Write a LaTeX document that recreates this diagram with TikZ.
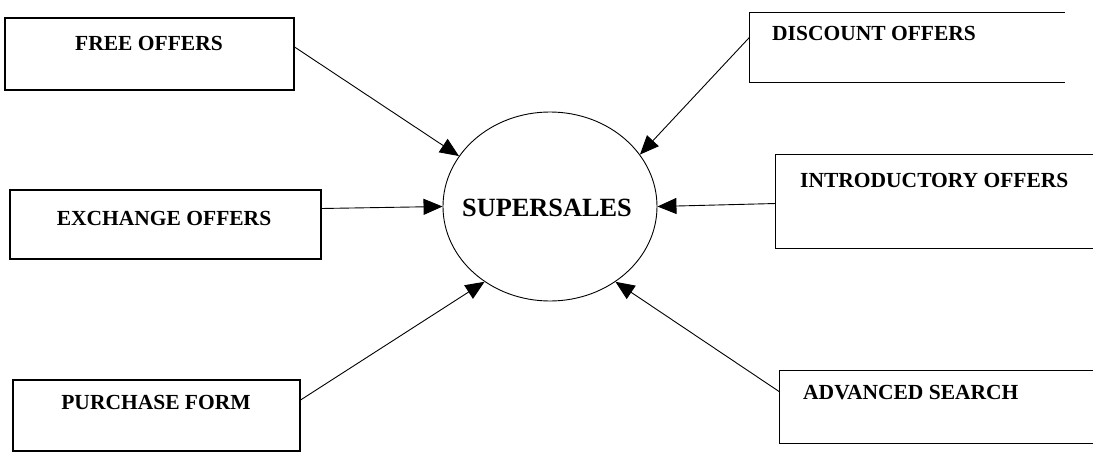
\documentclass[tikz,border=0pt]{standalone}
\usepackage{fontspec}
\setmainfont{Liberation Serif}
\usetikzlibrary{arrows.meta,calc,shapes.geometric}
\begin{document}
\begin{tikzpicture}[x=1pt,y=-1pt,
  boxshape/.style={draw,line width=1.1pt,inner sep=0pt},
  openbox/.style={inner sep=0pt},
  lbl/.style={font=\fontsize{21.5}{23}\selectfont\bfseries,inner sep=0pt},
  flow/.style={line width=0.9pt,-{Triangle[length=19pt,width=16pt]}}]
\useasboundingbox (0,0) rectangle (1093,452);
% central process
\node[ellipse,draw,line width=0.9pt,minimum width=214pt,minimum height=189pt,inner sep=0pt] (sup) at (550,206.5) {};
\node[font=\fontsize{26.3}{28}\selectfont\bfseries,inner sep=0pt] (supt) at (547,208) {SUPERSALES};
% left boxes
\node[boxshape,minimum width=289pt,minimum height=72pt] (free) at (149.5,54) {};
\node[lbl] (freet) at (149,43) {FREE OFFERS};
\node[boxshape,minimum width=311pt,minimum height=69pt] (exch) at (165.5,224.5) {};
\node[lbl] (excht) at (164,218) {EXCHANGE OFFERS};
\node[boxshape,minimum width=287pt,minimum height=71pt] (purch) at (156.5,415.5) {};
\node[lbl] (purcht) at (156,402) {PURCHASE FORM};
% right boxes (open on the right)
\node[openbox,minimum width=315pt,minimum height=69pt] (disc) at (907.5,47.5) {};
\draw[line width=1.1pt] (disc.north east) -- (disc.north west) -- (disc.south west) -- (disc.south east);
\node[lbl,anchor=west] (disct) at (772,33) {DISCOUNT OFFERS};
\node[openbox,minimum width=317pt,minimum height=93pt] (intro) at (934.5,201.5) {};
\draw[line width=1.1pt] (intro.north east) -- (intro.north west) -- (intro.south west) -- (intro.south east);
\node[lbl,anchor=west] (introt) at (800,180) {INTRODUCTORY OFFERS};
\node[openbox,minimum width=313pt,minimum height=72pt] (adv) at (936.5,407) {};
\draw[line width=1.1pt] (adv.north east) -- (adv.north west) -- (adv.south west) -- (adv.south east);
\node[lbl,anchor=west] (advt) at (803,393) {ADVANCED SEARCH};
% flows
\draw[flow] ($(free.east)+(0,-7)$) -- (sup.151.4);
\draw[flow] ($(exch.east)+(0,-16)$) -- (sup.180);
\draw[flow] ($(purch.east)+(0,-15.5)$) -- (sup.229.8);
\draw[flow] ($(disc.west)+(0,-10.5)$) -- (sup.30.8);
\draw[flow] ($(intro.west)+(0,2)$) -- (sup.0);
\draw[flow] ($(adv.west)+(0,-15)$) -- (sup.311.4);
\end{tikzpicture}
\end{document}
